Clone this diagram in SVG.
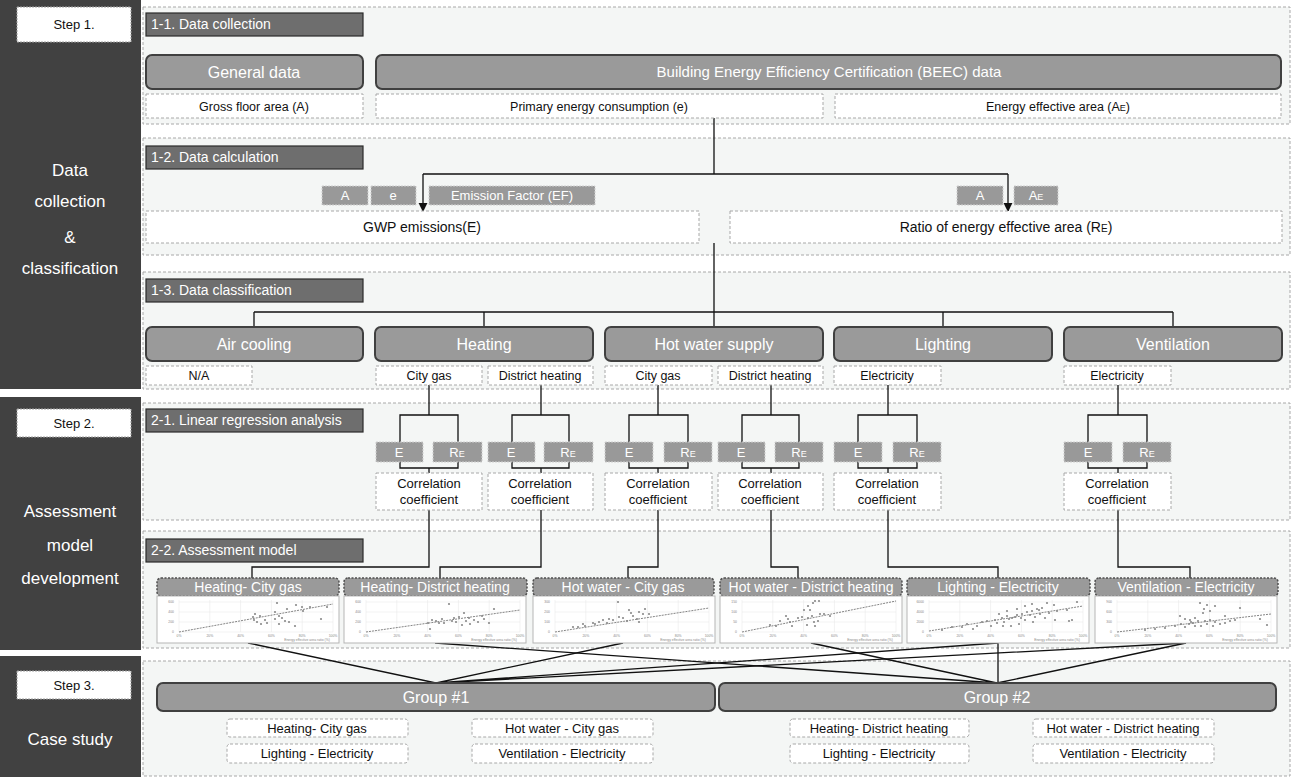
<svg xmlns="http://www.w3.org/2000/svg" xmlns:xlink="http://www.w3.org/1999/xlink" width="1294" height="777" viewBox="0 0 1294 777">
<style>
text{font-family:"Liberation Sans","Noto Sans CJK KR",sans-serif}
.dark{fill:#414141}
.panel{fill:#f4f6f5;stroke:#a8a8a8;stroke-width:1;stroke-dasharray:3 2}
.step{fill:#fff;stroke:#a0a0a0;stroke-dasharray:2 1}
.stept{fill:#111;font-size:13px;text-anchor:middle}
.left{fill:#fff;font-size:17px;text-anchor:middle}
.hdr{fill:#6e6e6e;stroke:#2a2a2a;stroke-width:1.2}
.hdrt{fill:#fff;font-size:14px}
.cat{fill:#9a9a9a;stroke:#404040;stroke-width:2}
.catt{fill:#fff;font-size:16px;text-anchor:middle}
.sub{fill:#fff;stroke:#a8a8a8;stroke-dasharray:3 2}
.subt{fill:#111;font-size:12.5px;text-anchor:middle}
.var{fill:#999;stroke:#d0d0d0;stroke-dasharray:2 1}
.vart{fill:#fff;font-size:13px;text-anchor:middle}
.conn{stroke:#111;stroke-width:1.3;fill:none}
.tab{fill:#9a9a9a;stroke:#505050;stroke-width:1.5;stroke-dasharray:2 1.5}
.tabt{fill:#fff;font-size:14px;text-anchor:middle}
.body{fill:#fff;stroke:#b5b5b5}
.grid{stroke:#e4e4e4;stroke-width:0.5}
.tick{fill:#888;font-size:3.4px}
.dot{fill:#8a8a8a}
.trend{stroke:#666;stroke-width:0.8;stroke-dasharray:2 1;fill:none}
.grp{fill:#9a9a9a;stroke:#404040;stroke-width:2}
.gsub{fill:#fff;stroke:#a8a8a8;stroke-dasharray:3 2}
</style>
<defs>
<marker id="arr" viewBox="0 0 10 10" refX="9" refY="5" markerWidth="7" markerHeight="7" orient="auto">
<path d="M0,0 L10,5 L0,10 z" fill="#111"/>
</marker>
<g id="chartbase">
<rect class="body" x="0" y="0" width="182" height="47"/>
<path class="grid" d="M22,4V36M52.8,4V36M83.6,4V36M114.4,4V36M145.2,4V36M176,4V36M22,36H176M22,26H176M22,16H176M22,6H176"/>
<g class="tick" text-anchor="middle">
<text x="22" y="40.5">0%</text><text x="52.8" y="40.5">20%</text><text x="83.6" y="40.5">40%</text><text x="114.4" y="40.5">60%</text><text x="145.2" y="40.5">80%</text><text x="176" y="40.5">100%</text>
<text x="150" y="45.3">Energy effective area ratio (%)</text>
</g>
</g>
</defs>

<!-- left panels -->
<g id="step1">
<rect class="dark" x="0" y="0" width="141" height="389"/>
<rect class="step" x="17" y="7" width="114" height="35"/>
<text class="stept" x="74" y="29">Step 1.</text>
<text class="left" x="70" y="176">Data</text>
<text class="left" x="70" y="207">collection</text>
<text class="left" x="70" y="243">&amp;</text>
<text class="left" x="70" y="274">classification</text>
</g>
<g id="step2">
<rect class="dark" x="0" y="397" width="141" height="253"/>
<rect class="step" x="17" y="409" width="114" height="28"/>
<text class="stept" x="74" y="428">Step 2.</text>
<text class="left" x="70" y="517">Assessment</text>
<text class="left" x="70" y="551">model</text>
<text class="left" x="70" y="584">development</text>
</g>
<g id="step3">
<rect class="dark" x="0" y="656" width="141" height="121"/>
<rect class="step" x="17" y="671" width="114" height="28"/>
<text class="stept" x="74" y="690">Step 3.</text>
<text class="left" x="70" y="745">Case study</text>
</g>

<!-- section panels -->
<g id="sec11"><rect class="panel" x="143" y="7" width="1147" height="117"/>
<rect class="hdr" x="146" y="13" width="217" height="23"/><text class="hdrt" x="151" y="29">1-1. Data collection</text></g>
<g id="sec12"><rect class="panel" x="143" y="138" width="1147" height="117"/>
<rect class="hdr" x="146" y="146" width="217" height="23"/><text class="hdrt" x="151" y="162">1-2. Data calculation</text></g>
<g id="sec13"><rect class="panel" x="143" y="272" width="1147" height="117"/>
<rect class="hdr" x="146" y="279" width="217" height="23"/><text class="hdrt" x="151" y="295">1-3. Data classification</text></g>
<g id="sec21"><rect class="panel" x="143" y="403" width="1147" height="117"/>
<rect class="hdr" x="146" y="409" width="217" height="23"/><text class="hdrt" x="151" y="425">2-1. Linear regression analysis</text></g>
<g id="sec22"><rect class="panel" x="143" y="531" width="1147" height="117"/>
<rect class="hdr" x="146" y="539" width="217" height="23"/><text class="hdrt" x="151" y="555">2-2. Assessment model</text></g>
<g id="sec3"><rect class="panel" x="143" y="661" width="1147" height="115"/></g>

<!-- connectors -->
<g id="connectors">
<path class="conn" d="M714,118V174M423,174H1008"/>
<path class="conn" d="M423,174V211" marker-end="url(#arr)"/>
<path class="conn" d="M1008,174V211" marker-end="url(#arr)"/>
<path class="conn" d="M714,243V327M254,312H1173M254,312V327M484,312V327M943,312V327M1173,312V327"/>
<path class="conn" d="M429,385V415M400,442V415H458V442M400,462V468H458V462M429,468V473"/>
<path class="conn" d="M541,385V415M512,442V415H569V442M512,462V468H569V462M541,468V473"/>
<path class="conn" d="M658,385V415M629,442V415H688V442M629,462V468H688V462M658,468V473"/>
<path class="conn" d="M771,385V415M742,442V415H799V442M742,462V468H799V462M771,468V473"/>
<path class="conn" d="M888,385V415M858,442V415H917V442M858,462V468H917V462M888,468V473"/>
<path class="conn" d="M1118,385V415M1088,442V415H1147V442M1088,462V468H1147V462M1118,468V473"/>
<path class="conn" d="M429,510V567H252V578M541,510V567H440V578M658,510V567H628V578M771,510V567H798V578M888,510V567H998V578M1118,510V567H1190V578"/>
<path class="conn" d="M248,643L436,683L623,643M436,683L998,643M436,683L1186,643"/>
<path class="conn" d="M435,643L997,683L811,643M998,643V683M997,683L1186,643"/>
</g>

<!-- 1-1 nodes -->
<g id="general"><rect class="cat" x="146" y="55" width="217" height="34" rx="6"/><text class="catt" x="254" y="78">General data</text></g>
<g id="beec"><rect class="cat" x="376" y="55" width="905" height="34" rx="6"/><text class="catt" x="829" y="77" style="font-size:15px">Building Energy Efficiency Certification (BEEC) data</text></g>
<g id="gfa"><rect class="sub" x="146" y="94" width="217" height="24"/><text class="subt" x="254" y="111">Gross floor area (A)</text></g>
<g id="pec"><rect class="sub" x="376" y="94" width="447" height="24"/><text class="subt" x="599" y="111">Primary energy consumption (e)</text></g>
<g id="eea"><rect class="sub" x="835" y="94" width="446" height="24"/><text class="subt" x="1058" y="111">Energy effective area (A<tspan style="font-size:9px">E</tspan>)</text></g>

<!-- 1-2 nodes -->
<g id="varA1"><rect class="var" x="322" y="186" width="46" height="19"/><text class="vart" x="345" y="200">A</text></g>
<g id="vare"><rect class="var" x="371" y="186" width="45" height="19"/><text class="vart" x="393" y="200">e</text></g>
<g id="varEF"><rect class="var" x="429" y="186" width="166" height="19"/><text class="vart" x="512" y="200">Emission Factor (EF)</text></g>
<g id="varA2"><rect class="var" x="957" y="186" width="46" height="19"/><text class="vart" x="980" y="200">A</text></g>
<g id="varAE"><rect class="var" x="1014" y="186" width="44" height="19"/><text class="vart" x="1036" y="200">A<tspan style="font-size:9px">E</tspan></text></g>
<g id="gwp"><rect class="sub" x="146" y="211" width="553" height="32"/><text class="subt" x="422" y="232" style="font-size:14px">GWP emissions(E)</text></g>
<g id="ratio"><rect class="sub" x="730" y="211" width="552" height="32"/><text class="subt" x="1006" y="232" style="font-size:14px">Ratio of energy effective area (R<tspan style="font-size:10px">E</tspan>)</text></g>

<!-- 1-3 nodes -->
<g id="aircool"><rect class="cat" x="146" y="327" width="217" height="34" rx="6"/><text class="catt" x="254" y="350">Air cooling</text>
<rect class="sub" x="146" y="366" width="106" height="19"/><text class="subt" x="199" y="380">N/A</text></g>
<g id="heating"><rect class="cat" x="375" y="327" width="218" height="34" rx="6"/><text class="catt" x="484" y="350">Heating</text>
<rect class="sub" x="376" y="366" width="106" height="19"/><text class="subt" x="429" y="380">City gas</text>
<rect class="sub" x="488" y="366" width="105" height="19"/><text class="subt" x="540" y="380">District heating</text></g>
<g id="hotwater"><rect class="cat" x="605" y="327" width="218" height="34" rx="6"/><text class="catt" x="714" y="350">Hot water supply</text>
<rect class="sub" x="605" y="366" width="107" height="19"/><text class="subt" x="658" y="380">City gas</text>
<rect class="sub" x="718" y="366" width="105" height="19"/><text class="subt" x="770" y="380">District heating</text></g>
<g id="lighting"><rect class="cat" x="834" y="327" width="218" height="34" rx="6"/><text class="catt" x="943" y="350">Lighting</text>
<rect class="sub" x="834" y="366" width="107" height="19"/><text class="subt" x="887" y="380">Electricity</text></g>
<g id="ventilation"><rect class="cat" x="1064" y="327" width="218" height="34" rx="6"/><text class="catt" x="1173" y="350">Ventilation</text>
<rect class="sub" x="1064" y="366" width="107" height="19"/><text class="subt" x="1117" y="380">Electricity</text></g>

<!-- 2-1 nodes -->
<g id="reg1"><rect class="var" x="376" y="442" width="47" height="20"/><text class="vart" x="399" y="457">E</text><rect class="var" x="433" y="442" width="49" height="20"/><text class="vart" x="457" y="457">R<tspan style="font-size:9px">E</tspan></text>
<rect class="sub" x="376" y="473" width="106" height="37"/><text class="subt" x="429" y="488" style="font-size:13px">Correlation</text><text class="subt" x="429" y="504" style="font-size:13px">coefficient</text></g>
<g id="reg2"><rect class="var" x="488" y="442" width="47" height="20"/><text class="vart" x="511" y="457">E</text><rect class="var" x="544" y="442" width="49" height="20"/><text class="vart" x="568" y="457">R<tspan style="font-size:9px">E</tspan></text>
<rect class="sub" x="488" y="473" width="105" height="37"/><text class="subt" x="540" y="488" style="font-size:13px">Correlation</text><text class="subt" x="540" y="504" style="font-size:13px">coefficient</text></g>
<g id="reg3"><rect class="var" x="605" y="442" width="48" height="20"/><text class="vart" x="629" y="457">E</text><rect class="var" x="664" y="442" width="48" height="20"/><text class="vart" x="688" y="457">R<tspan style="font-size:9px">E</tspan></text>
<rect class="sub" x="605" y="473" width="107" height="37"/><text class="subt" x="658" y="488" style="font-size:13px">Correlation</text><text class="subt" x="658" y="504" style="font-size:13px">coefficient</text></g>
<g id="reg4"><rect class="var" x="718" y="442" width="47" height="20"/><text class="vart" x="741" y="457">E</text><rect class="var" x="775" y="442" width="48" height="20"/><text class="vart" x="799" y="457">R<tspan style="font-size:9px">E</tspan></text>
<rect class="sub" x="718" y="473" width="105" height="37"/><text class="subt" x="770" y="488" style="font-size:13px">Correlation</text><text class="subt" x="770" y="504" style="font-size:13px">coefficient</text></g>
<g id="reg5"><rect class="var" x="834" y="442" width="48" height="20"/><text class="vart" x="858" y="457">E</text><rect class="var" x="893" y="442" width="48" height="20"/><text class="vart" x="917" y="457">R<tspan style="font-size:9px">E</tspan></text>
<rect class="sub" x="834" y="473" width="107" height="37"/><text class="subt" x="887" y="488" style="font-size:13px">Correlation</text><text class="subt" x="887" y="504" style="font-size:13px">coefficient</text></g>
<g id="reg6"><rect class="var" x="1064" y="442" width="48" height="20"/><text class="vart" x="1088" y="457">E</text><rect class="var" x="1123" y="442" width="48" height="20"/><text class="vart" x="1147" y="457">R<tspan style="font-size:9px">E</tspan></text>
<rect class="sub" x="1064" y="473" width="107" height="37"/><text class="subt" x="1117" y="488" style="font-size:13px">Correlation</text><text class="subt" x="1117" y="504" style="font-size:13px">coefficient</text></g>

<!-- 2-2 charts -->
<g id="chart1">
<rect class="tab" x="157" y="578" width="182" height="18" rx="4"/><text class="tabt" x="248" y="592">Heating- City gas</text>
<g transform="translate(157,596)"><use xlink:href="#chartbase"/>
<g class="tick" text-anchor="end"><text x="17" y="37">0</text><text x="17" y="27">200</text><text x="17" y="17">400</text><text x="17" y="7">600</text></g>
<path class="trend" d="M22,36L176,8"/>
<g class="dot"><circle cx="120" cy="7" r="1.1"/><circle cx="139" cy="9" r="1.1"/><circle cx="145" cy="11" r="1.1"/><circle cx="130" cy="13" r="1.1"/><circle cx="118" cy="16" r="1.1"/><circle cx="98" cy="18" r="1.1"/><circle cx="103" cy="20" r="1.1"/><circle cx="122" cy="20" r="1.1"/><circle cx="96" cy="21" r="1.1"/><circle cx="97" cy="24" r="1.1"/><circle cx="108" cy="24" r="1.1"/><circle cx="118" cy="23" r="1.1"/><circle cx="125" cy="22" r="1.1"/><circle cx="128" cy="25" r="1.1"/><circle cx="132" cy="26" r="1.1"/><circle cx="100" cy="26" r="1.1"/><circle cx="110" cy="27" r="1.1"/><circle cx="122" cy="28" r="1.1"/><circle cx="104" cy="28" r="1.1"/><circle cx="138" cy="30" r="1.1"/><circle cx="170" cy="11" r="1.1"/><circle cx="164" cy="23" r="1.1"/><circle cx="146" cy="15" r="1.1"/><circle cx="153" cy="11" r="1.1"/></g>
</g></g>
<g id="chart2">
<rect class="tab" x="344" y="578" width="183" height="18" rx="4"/><text class="tabt" x="435" y="592">Heating- District heating</text>
<g transform="translate(344,596)"><use xlink:href="#chartbase"/>
<g class="tick" text-anchor="end"><text x="17" y="37">0</text><text x="17" y="27">200</text><text x="17" y="17">400</text><text x="17" y="7">600</text></g>
<path class="trend" d="M22,36L176,14"/>
<g class="dot"><circle cx="105" cy="8" r="1.1"/><circle cx="150" cy="13" r="1.1"/><circle cx="120" cy="17" r="1.1"/><circle cx="98" cy="23" r="1.1"/><circle cx="110" cy="22" r="1.1"/><circle cx="88" cy="24" r="1.1"/><circle cx="92" cy="25" r="1.1"/><circle cx="84" cy="27" r="1.1"/><circle cx="112" cy="26" r="1.1"/><circle cx="122" cy="25" r="1.1"/><circle cx="130" cy="24" r="1.1"/><circle cx="134" cy="26" r="1.1"/><circle cx="126" cy="28" r="1.1"/><circle cx="118" cy="29" r="1.1"/><circle cx="100" cy="27" r="1.1"/><circle cx="95" cy="27" r="1.1"/><circle cx="140" cy="23" r="1.1"/><circle cx="145" cy="27" r="1.1"/><circle cx="138" cy="20" r="1.1"/><circle cx="86" cy="33" r="1.1"/><circle cx="125" cy="22" r="1.1"/><circle cx="115" cy="21" r="1.1"/><circle cx="108" cy="25" r="1.1"/></g>
</g></g>
<g id="chart3">
<rect class="tab" x="533" y="578" width="181" height="18" rx="4"/><text class="tabt" x="623" y="592">Hot water - City gas</text>
<g transform="translate(533,596)"><use xlink:href="#chartbase"/>
<g class="tick" text-anchor="end"><text x="17" y="37">0</text><text x="17" y="27">100</text><text x="17" y="17">200</text><text x="17" y="7">300</text></g>
<path class="trend" d="M22,36L176,12"/>
<g class="dot"><circle cx="85" cy="6" r="1.1"/><circle cx="96" cy="14" r="1.1"/><circle cx="112" cy="13" r="1.1"/><circle cx="106" cy="16" r="1.1"/><circle cx="98" cy="17" r="1.1"/><circle cx="110" cy="18" r="1.1"/><circle cx="100" cy="20" r="1.1"/><circle cx="86" cy="21" r="1.1"/><circle cx="76" cy="23" r="1.1"/><circle cx="80" cy="24" r="1.1"/><circle cx="70" cy="24" r="1.1"/><circle cx="60" cy="27" r="1.1"/><circle cx="62" cy="28" r="1.1"/><circle cx="50" cy="28" r="1.1"/><circle cx="40" cy="31" r="1.1"/><circle cx="45" cy="31" r="1.1"/><circle cx="52" cy="30" r="1.1"/><circle cx="90" cy="22" r="1.1"/><circle cx="94" cy="25" r="1.1"/><circle cx="104" cy="23" r="1.1"/><circle cx="106" cy="26" r="1.1"/><circle cx="74" cy="27" r="1.1"/><circle cx="66" cy="26" r="1.1"/><circle cx="116" cy="18" r="1.1"/></g>
</g></g>
<g id="chart4">
<rect class="tab" x="720" y="578" width="182" height="18" rx="4"/><text class="tabt" x="811" y="592">Hot water - District heating</text>
<g transform="translate(720,596)"><use xlink:href="#chartbase"/>
<g class="tick" text-anchor="end"><text x="17" y="37">0</text><text x="17" y="27">50</text><text x="17" y="17">100</text><text x="17" y="7">150</text></g>
<path class="trend" d="M22,36L176,5"/>
<g class="dot"><circle cx="95" cy="5" r="1.1"/><circle cx="99" cy="5" r="1.1"/><circle cx="93" cy="7" r="1.1"/><circle cx="88" cy="10" r="1.1"/><circle cx="84" cy="14" r="1.1"/><circle cx="90" cy="14" r="1.1"/><circle cx="92" cy="20" r="1.1"/><circle cx="88" cy="22" r="1.1"/><circle cx="82" cy="21" r="1.1"/><circle cx="78" cy="22" r="1.1"/><circle cx="68" cy="23" r="1.1"/><circle cx="70" cy="26" r="1.1"/><circle cx="60" cy="25" r="1.1"/><circle cx="50" cy="29" r="1.1"/><circle cx="56" cy="30" r="1.1"/><circle cx="72" cy="30" r="1.1"/><circle cx="100" cy="18" r="1.1"/><circle cx="104" cy="18" r="1.1"/><circle cx="98" cy="25" r="1.1"/><circle cx="94" cy="26" r="1.1"/><circle cx="87" cy="29" r="1.1"/><circle cx="95" cy="30" r="1.1"/><circle cx="110" cy="20" r="1.1"/><circle cx="66" cy="20" r="1.1"/></g>
</g></g>
<g id="chart5">
<rect class="tab" x="907" y="578" width="183" height="18" rx="4"/><text class="tabt" x="998" y="592">Lighting - Electricity</text>
<g transform="translate(907,596)"><use xlink:href="#chartbase"/>
<g class="tick" text-anchor="end"><text x="17" y="37">0</text><text x="17" y="27">2000</text><text x="17" y="17">4000</text><text x="17" y="7">6000</text></g>
<path class="trend" d="M22,35L176,10"/>
<g class="dot"><circle cx="170" cy="6" r="1.1"/><circle cx="140" cy="7" r="1.1"/><circle cx="135" cy="12" r="1.1"/><circle cx="147" cy="9" r="1.1"/><circle cx="130" cy="13" r="1.1"/><circle cx="125" cy="15" r="1.1"/><circle cx="120" cy="16" r="1.1"/><circle cx="115" cy="18" r="1.1"/><circle cx="110" cy="19" r="1.1"/><circle cx="105" cy="22" r="1.1"/><circle cx="100" cy="20" r="1.1"/><circle cx="95" cy="22" r="1.1"/><circle cx="88" cy="24" r="1.1"/><circle cx="80" cy="25" r="1.1"/><circle cx="75" cy="26" r="1.1"/><circle cx="90" cy="27" r="1.1"/><circle cx="97" cy="26" r="1.1"/><circle cx="102" cy="23" r="1.1"/><circle cx="108" cy="21" r="1.1"/><circle cx="114" cy="22" r="1.1"/><circle cx="118" cy="24" r="1.1"/><circle cx="123" cy="19" r="1.1"/><circle cx="128" cy="21" r="1.1"/><circle cx="133" cy="18" r="1.1"/><circle cx="138" cy="22" r="1.1"/><circle cx="142" cy="17" r="1.1"/><circle cx="150" cy="15" r="1.1"/><circle cx="160" cy="14" r="1.1"/><circle cx="162" cy="25" r="1.1"/><circle cx="165" cy="24" r="1.1"/><circle cx="148" cy="24" r="1.1"/><circle cx="126" cy="26" r="1.1"/><circle cx="112" cy="28" r="1.1"/><circle cx="104" cy="30" r="1.1"/><circle cx="96" cy="30" r="1.1"/><circle cx="84" cy="30" r="1.1"/><circle cx="70" cy="30" r="1.1"/><circle cx="66" cy="33" r="1.1"/><circle cx="35" cy="34" r="1.1"/><circle cx="45" cy="31" r="1.1"/><circle cx="55" cy="31" r="1.1"/><circle cx="60" cy="28" r="1.1"/><circle cx="100" cy="15" r="1.1"/><circle cx="118" cy="10" r="1.1"/><circle cx="125" cy="8" r="1.1"/><circle cx="132" cy="14" r="1.1"/><circle cx="110" cy="13" r="1.1"/><circle cx="92" cy="18" r="1.1"/></g>
</g></g>
<g id="chart6">
<rect class="tab" x="1095" y="578" width="183" height="18" rx="4"/><text class="tabt" x="1186" y="592">Ventilation - Electricity</text>
<g transform="translate(1095,596)"><use xlink:href="#chartbase"/>
<g class="tick" text-anchor="end"><text x="17" y="37">0</text><text x="17" y="27">300</text><text x="17" y="17">600</text><text x="17" y="7">900</text></g>
<path class="trend" d="M22,36L176,18"/>
<g class="dot"><circle cx="105" cy="7" r="1.1"/><circle cx="109" cy="13" r="1.1"/><circle cx="112" cy="9" r="1.1"/><circle cx="115" cy="15" r="1.1"/><circle cx="108" cy="17" r="1.1"/><circle cx="120" cy="10" r="1.1"/><circle cx="130" cy="20" r="1.1"/><circle cx="145" cy="12" r="1.1"/><circle cx="85" cy="20" r="1.1"/><circle cx="90" cy="23" r="1.1"/><circle cx="95" cy="24" r="1.1"/><circle cx="100" cy="22" r="1.1"/><circle cx="103" cy="25" r="1.1"/><circle cx="98" cy="27" r="1.1"/><circle cx="94" cy="28" r="1.1"/><circle cx="110" cy="25" r="1.1"/><circle cx="115" cy="24" r="1.1"/><circle cx="120" cy="26" r="1.1"/><circle cx="112" cy="28" r="1.1"/><circle cx="106" cy="30" r="1.1"/><circle cx="100" cy="30" r="1.1"/><circle cx="90" cy="31" r="1.1"/><circle cx="80" cy="30" r="1.1"/><circle cx="70" cy="32" r="1.1"/><circle cx="60" cy="33" r="1.1"/><circle cx="50" cy="34" r="1.1"/><circle cx="125" cy="28" r="1.1"/><circle cx="130" cy="27" r="1.1"/><circle cx="135" cy="25" r="1.1"/><circle cx="118" cy="30" r="1.1"/><circle cx="96" cy="26" r="1.1"/><circle cx="165" cy="23" r="1.1"/><circle cx="172" cy="29" r="1.1"/><circle cx="140" cy="24" r="1.1"/><circle cx="86" cy="28" r="1.1"/></g>
</g></g>

<!-- step 3 nodes -->
<g id="group1"><rect class="grp" x="157" y="683" width="558" height="28" rx="6"/><text class="catt" x="436" y="703">Group #1</text>
<rect class="gsub" x="227" y="719" width="181" height="18" rx="3"/><text class="subt" x="317" y="733" style="font-size:13px">Heating- City gas</text>
<rect class="gsub" x="227" y="744" width="181" height="19" rx="3"/><text class="subt" x="317" y="758" style="font-size:13px">Lighting - Electricity</text>
<rect class="gsub" x="472" y="719" width="181" height="18" rx="3"/><text class="subt" x="562" y="733" style="font-size:13px">Hot water - City gas</text>
<rect class="gsub" x="472" y="744" width="181" height="19" rx="3"/><text class="subt" x="562" y="758" style="font-size:13px">Ventilation - Electricity</text></g>
<g id="group2"><rect class="grp" x="719" y="683" width="557" height="28" rx="6"/><text class="catt" x="997" y="703">Group #2</text>
<rect class="gsub" x="790" y="719" width="179" height="18" rx="3"/><text class="subt" x="879" y="733" style="font-size:13px">Heating- District heating</text>
<rect class="gsub" x="790" y="744" width="179" height="19" rx="3"/><text class="subt" x="879" y="758" style="font-size:13px">Lighting - Electricity</text>
<rect class="gsub" x="1033" y="719" width="181" height="18" rx="3"/><text class="subt" x="1123" y="733" style="font-size:13px">Hot water - District heating</text>
<rect class="gsub" x="1033" y="744" width="181" height="19" rx="3"/><text class="subt" x="1123" y="758" style="font-size:13px">Ventilation - Electricity</text></g>
</svg>
